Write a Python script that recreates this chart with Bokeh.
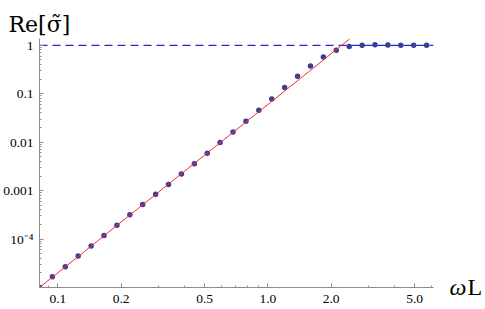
from bokeh.plotting import figure
from bokeh.models import FixedTicker, Title, LinearAxis, Range1d, LinearScale
from bokeh.embed import file_html
from bokeh.resources import INLINE

# ---- data ----
omega_L = [0.0817, 0.0941, 0.1084, 0.1249, 0.1439, 0.1658, 0.1910, 0.2200,
           0.2534, 0.2920, 0.3363, 0.3875, 0.4464, 0.5143, 0.5924, 0.6825,
           0.7863, 0.9058, 1.0435, 1.2021, 1.3850, 1.5955, 1.8380, 2.1175,
           2.4394, 2.8103, 3.2367, 3.7285, 4.2963, 4.9500, 5.7016]
re_sigma = [1.01e-5, 1.67e-5, 2.69e-5, 4.46e-5, 7.17e-5, 1.19e-4, 1.92e-4,
            3.17e-4, 5.19e-4, 8.39e-4, 1.34e-3, 2.19e-3, 3.57e-3, 5.93e-3,
            9.86e-3, 0.0163, 0.0271, 0.0457, 0.0781, 0.134, 0.229, 0.374,
            0.574, 0.789, 0.940, 1.0, 1.03, 1.01, 1.0, 1.0, 1.0]

fit_x = [0.0817, 2.45]
fit_y = [1.0e-5, 1.35]

unity_x = [0.0817, 6.15]
unity_y = [1.0, 1.0]

x_major = [0.1, 0.2, 0.5, 1.0, 2.0, 5.0]
x_major_labels = ["0.1", "0.2", "0.5", "1.0", "2.0", "5.0"]
x_minor = [0.09, 0.3, 0.4, 0.6, 0.7, 0.8, 0.9, 3.0, 4.0, 6.0]

y_major = [1e-4, 1e-3, 1e-2, 0.1, 1.0]
y_major_labels = ["10\u207b\u2074", "0.001", "0.01", "0.1", "1"]
y_minor = [k * 10.0 ** e for e in range(-5, 1) for k in range(2, 10)]

y_title = "Re[\u03c3\u0303]"
x_title_parts = ["\u03c9", "L"]

x_lo, x_hi = 0.0817, 6.15
y_lo, y_hi = 1.0e-5, 1.38

font = "Liberation Serif"

p = figure(width=485, height=309, x_axis_type="log", y_axis_type="log",
           x_range=(x_lo, x_hi), y_range=(y_lo, y_hi),
           output_backend="svg", toolbar_location=None,
           min_border_left=37, min_border_right=48,
           min_border_top=38, min_border_bottom=22)
p.outline_line_color = None
p.grid.visible = False
p.background_fill_color = "white"

p.title = Title(text=y_title, align="left", offset=-31, standoff=0,
                vertical_align="top",
                text_font="DejaVu Serif",
                text_font_size="22px",
                text_font_style="normal", text_color="black")

axis_gray = "#8c8c8c"
p.xaxis.ticker = FixedTicker(ticks=x_major, minor_ticks=x_minor)
p.yaxis.ticker = FixedTicker(ticks=y_major, minor_ticks=y_minor)
p.xaxis.major_label_overrides = dict(zip(x_major, x_major_labels))
p.yaxis.major_label_overrides = dict(zip(y_major, y_major_labels))
for ax in (p.xaxis, p.yaxis):
    ax.axis_label = None
    ax.axis_line_color = axis_gray
    ax.major_tick_line_color = axis_gray
    ax.minor_tick_line_color = axis_gray
    ax.major_tick_in = 4
    ax.major_tick_out = 0
    ax.minor_tick_in = 2
    ax.minor_tick_out = 0
    ax.major_label_text_font = font
    ax.major_label_text_font_size = "13.5px"
    ax.major_label_text_color = "black"
p.yaxis.major_label_standoff = 6
p.xaxis.major_label_standoff = 7

# x-axis title at the right end of the axis, as horizontal right-side labels
p.extra_y_ranges = {"lab": Range1d(-0.3, 100)}
p.extra_y_scales = {"lab": LinearScale()}
for text, style, standoff in ((x_title_parts[0], "italic", 16),
                              (x_title_parts[1], "normal", -2)):
    lab_ax = LinearAxis(y_range_name="lab", ticker=FixedTicker(ticks=[0]),
                        major_label_overrides={0: text})
    lab_ax.axis_line_color = None
    lab_ax.major_tick_line_color = None
    lab_ax.minor_tick_line_color = None
    lab_ax.major_tick_out = 0
    lab_ax.major_tick_in = 0
    lab_ax.minor_tick_out = 0
    lab_ax.major_label_standoff = standoff
    lab_ax.major_label_text_font = font
    lab_ax.major_label_text_font_size = "24px"
    lab_ax.major_label_text_font_style = style
    lab_ax.major_label_text_color = "black"
    p.add_layout(lab_ax, "right")

p.line(unity_x, unity_y, line_color="#2424d8", line_width=1.3, line_dash="8 5")
p.scatter(omega_L, re_sigma, size=5.5, fill_color="#3d3d99", line_color=None)
p.line(fit_x, fit_y, line_color="#ff2a2a", line_width=1)

open("out.html", "w").write(file_html(p, INLINE))
